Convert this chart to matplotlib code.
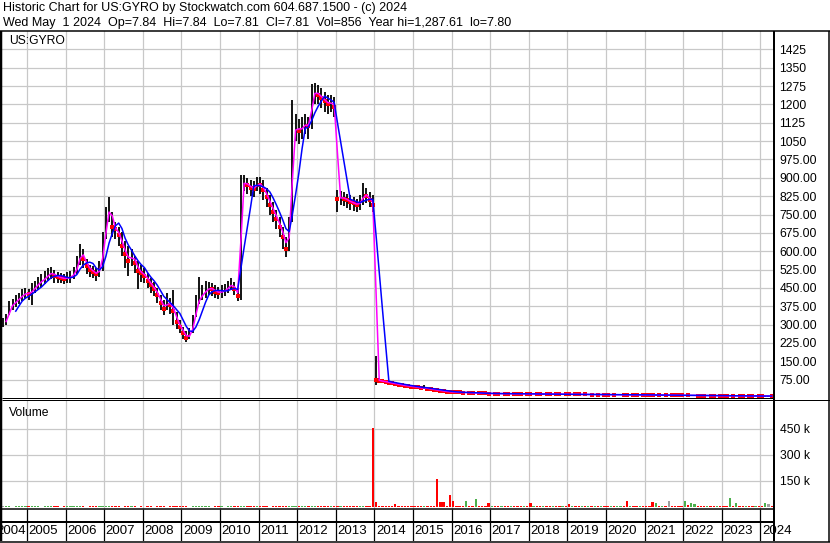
import matplotlib
matplotlib.use("Agg")
import matplotlib.pyplot as plt
from matplotlib.lines import Line2D
from matplotlib.ticker import FuncFormatter
import numpy as np
import pandas as pd

plt.rcParams['font.family'] = ['Liberation Sans', 'DejaVu Sans']

# ---------------- data (monthly, May 2004 .. Apr 2024) ----------------
start_year, start_month = 2004, 5

close = [
    305, 320, 370, 385, 395, 410, 420, 430,                                   # 2004 (May-Dec)
    425, 440, 455, 470, 480, 490, 505, 512, 500, 495, 490, 488,               # 2005
    490, 495, 510, 540, 600, 570, 540, 525, 515, 505, 530, 610,               # 2006
    730, 790, 700, 690, 665, 620, 590, 560, 585, 550, 520, 510,               # 2007
    500, 480, 460, 445, 420, 390, 365, 395, 380, 355, 310, 290,               # 2008
    265, 245, 260, 300, 380, 410, 425, 440, 450, 445, 435, 430,               # 2009
    435, 440, 455, 465, 445, 415, 875, 880, 870, 860, 855, 880,               # 2010
    870, 850, 820, 790, 760, 730, 700, 660, 610, 700, 1080, 1110,             # 2011
    1090, 1110, 1120, 1110, 1240, 1250, 1240, 1225, 1215, 1200, 1210, 1190,   # 2012
    815, 820, 815, 808, 800, 795, 790, 800, 835, 825, 810, 790,               # 2013
    75, 70, 68, 66, 63, 60, 58, 55, 53, 50, 49, 47,                           # 2014
    45, 43, 40, 42, 38, 36, 34, 32, 30, 28, 26, 25,                           # 2015
    24, 23, 22.5, 22, 23, 21.5, 20.5, 21, 19.5, 19, 18.5, 18.2,               # 2016
    18.5, 18, 17.8, 18.2, 17.6, 17.5, 17.8, 17.2, 17, 16.8, 17, 16.5,         # 2017
    16.2, 16.5, 16.1, 15.9, 16.2, 15.8, 15.6, 15.8, 15.4, 15.2, 15.4, 15.0,   # 2018
    14.8, 15.0, 14.8, 14.6, 14.8, 14.4, 14.5, 14.2, 14.3, 14.0, 14.1, 13.8,   # 2019
    13.6, 13.8, 13.2, 13.4, 13.6, 13.3, 13.0, 13.2, 13.0, 12.8, 13.0, 12.7,   # 2020
    12.5, 12.3, 11.8, 12.2, 11.8, 11.9, 11.6, 11.6, 11.2, 11.0, 10.8, 10.6,   # 2021
    10.8, 10.5, 10.7, 10.9, 10.2, 10.0, 9.8, 9.9, 9.6, 9.4, 9.5, 9.2,         # 2022
    9.0, 8.8, 9.1, 8.9, 9.0, 8.7, 8.5, 8.6, 8.3, 8.2, 8.3, 8.0,               # 2023
    7.9, 8.0, 8.0, 7.81,                                                      # 2024 (Jan-Apr)
]

high = [
    325, 345, 395, 405, 420, 430, 445, 450,
    445, 470, 480, 495, 505, 520, 530, 535, 525, 515, 510, 505,
    515, 520, 535, 580, 630, 610, 570, 545, 540, 530, 560, 680,
    780, 820, 760, 720, 700, 680, 640, 620, 610, 580, 560, 545,
    530, 510, 490, 475, 450, 420, 400, 430, 410, 440, 350, 320,
    290, 275, 285, 340, 420, 495, 460, 480, 475, 470, 460, 455,
    460, 465, 480, 490, 475, 450, 910, 910, 900, 890, 885, 905,
    905, 890, 860, 830, 800, 770, 740, 700, 660, 740, 1220, 1160,
    1140, 1150, 1160, 1150, 1285, 1288, 1280, 1265, 1250, 1240, 1240, 1230,
    850, 845, 840, 835, 830, 820, 815, 830, 880, 860, 840, 830,
    170, 80, 76, 73, 70, 67, 64, 62, 60, 57, 55, 53,
    50, 48, 47, 52, 45, 41, 39, 36, 34, 32, 30, 29,
    27, 26, 25, 24.5, 25, 24, 23, 23, 22, 21.5, 21, 20.5,
    20.5, 20, 20, 20.5, 19.8, 19.5, 20, 19.5, 19, 19, 19, 18.5,
    18.2, 18.5, 18.2, 18, 18.2, 17.8, 17.6, 17.8, 17.4, 17.2, 17.4, 17,
    16.8, 17, 16.8, 16.6, 16.8, 16.4, 16.5, 16.2, 16.3, 16, 16.1, 15.8,
    15.6, 15.8, 15.2, 15.4, 15.6, 15.3, 15, 15.2, 15, 14.8, 15, 14.7,
    14.5, 14.3, 13.8, 14.2, 13.8, 13.9, 13.6, 13.6, 13.2, 13, 12.8, 12.6,
    12.8, 12.5, 12.7, 12.9, 12.2, 12, 11.8, 11.9, 11.6, 11.4, 11.5, 11.2,
    11, 10.8, 11.1, 10.9, 11, 10.7, 10.5, 10.6, 10.3, 10.2, 10.3, 10,
    9.9, 10, 10, 9.6,
]

low = [
    290, 300, 340, 360, 370, 385, 395, 405,
    400, 380, 430, 440, 455, 465, 480, 485, 470, 470, 468, 465,
    470, 470, 485, 505, 545, 530, 505, 495, 490, 480, 495, 520,
    650, 720, 660, 650, 620, 580, 530, 500, 540, 510, 445, 475,
    470, 450, 430, 415, 390, 360, 340, 360, 345, 300, 280, 265,
    240, 230, 240, 265, 330, 385, 400, 410, 420, 415, 410, 405,
    410, 415, 430, 440, 420, 395, 400, 845, 835, 825, 820, 845,
    835, 810, 780, 750, 720, 690, 660, 610, 575, 600, 720, 1050,
    1040, 1060, 1080, 1060, 1100, 1200, 1200, 1185, 1170, 1160, 1170, 1150,
    760, 790, 785, 775, 770, 765, 760, 770, 790, 795, 780, 760,
    55, 62, 62, 60, 58, 55, 53, 50, 48, 46, 45, 43,
    41, 39, 36, 37, 34, 32, 30, 29, 27, 25, 23, 22,
    22, 21, 20.5, 20, 20.5, 19.5, 18.5, 19, 17.5, 17, 16.5, 16.2,
    16.5, 16, 15.8, 16.2, 15.6, 15.5, 15.8, 15.2, 15, 14.8, 15, 14.5,
    14.2, 14.5, 14.1, 13.9, 14.2, 13.8, 13.6, 13.8, 13.4, 13.2, 13.4, 13,
    12.8, 13, 12.8, 12.6, 12.8, 12.4, 12.5, 12.2, 12.3, 12, 12.1, 11.8,
    11.6, 11.8, 11.2, 11.4, 11.6, 11.3, 11, 11.2, 11, 10.8, 11, 10.7,
    10.5, 10.3, 9.8, 10.2, 9.8, 9.9, 9.6, 9.6, 9.2, 9, 8.8, 8.6,
    8.8, 8.5, 8.7, 8.9, 8.2, 8, 7.8, 7.9, 7.6, 7.4, 7.5, 7.2,
    7, 6.8, 7.1, 6.9, 7, 6.7, 6.5, 6.6, 6.3, 6.2, 6.3, 6,
    5.9, 6, 6, 7.8,
]

volume_k = [
    3, 4, 3, 2, 3, 4, 3, 3,
    3, 3, 4, 3, 2, 3, 3, 4, 3, 3, 2, 3,
    3, 3, 4, 6, 3, 3, 2, 3, 3, 3, 3, 4,
    4, 5, 3, 3, 3, 2, 3, 3, 3, 3, 2, 3,
    2, 3, 3, 2, 3, 3, 3, 2, 3, 4, 3, 3,
    3, 3, 2, 3, 3, 4, 3, 3, 3, 2, 3, 3,
    3, 2, 3, 3, 3, 3, 5, 7, 3, 3, 3, 3,
    3, 3, 3, 2, 3, 3, 3, 3, 4, 3, 4, 3,
    4, 3, 3, 3, 4, 8, 4, 3, 3, 3, 5, 4,
    3, 3, 3, 3, 3, 8, 3, 3, 4, 3, 4, 457,
    26, 6, 4, 4, 4, 5, 15, 4, 3, 3, 3, 3,
    3, 4, 3, 5, 4, 6, 5, 163, 26, 26, 4, 67,
    36, 8, 6, 5, 37, 6, 5, 45, 6, 5, 4, 22,
    4, 4, 3, 3, 5, 3, 3, 4, 4, 3, 4, 4,
    20, 6, 4, 3, 3, 4, 3, 4, 5, 3, 4, 4,
    18, 5, 3, 3, 4, 6, 3, 3, 4, 3, 3, 3,
    3, 4, 3, 3, 5, 4, 36, 3, 3, 4, 3, 4,
    5, 3, 28, 22, 4, 6, 5, 37, 6, 8, 5, 4,
    37, 10, 20, 15, 6, 8, 5, 4, 6, 4, 5, 4,
    4, 3, 51, 6, 22, 4, 5, 6, 4, 5, 4, 6,
    5, 25, 18, 6,
]

price_ticks = [75, 150, 225, 300, 375, 450, 525, 600, 675, 750, 825, 900, 975,
               1050, 1125, 1200, 1275, 1350, 1425]
volume_ticks_k = [150, 300, 450]
year_labels = list(range(2004, 2025))
symbol = "US:GYRO"
header_line1 = "Historic Chart for US:GYRO by Stockwatch.com 604.687.1500 - (c) 2024"
header_line2 = ("Wed May  1 2024  Op=7.84  Hi=7.84  Lo=7.81  Cl=7.81  Vol=856  "
                "Year hi=1,287.61  lo=7.80")

for name, arr in (("high", high), ("low", low), ("volume_k", volume_k)):
    if len(arr) != len(close):
        raise ValueError(f"{name} has {len(arr)} values, close has {len(close)}")

# ---------------- derived ----------------
close_a = np.array(close, float)
high_a = np.array(high, float)
low_a = np.array(low, float)
vol_a = np.array(volume_k, float)
n = len(close_a)
t = start_year + (start_month - 1 + np.arange(n) + 0.5) / 12.0
prev = np.r_[close_a[0], close_a[:-1]]
down = close_a < prev
up = close_a > prev
ma_fast = pd.Series(close_a).rolling(2).mean().to_numpy()
ma_slow = pd.Series(close_a).rolling(5).mean().to_numpy()

# ---------------- figure layout (pixel based) ----------------
W, H = 830, 543
fig = plt.figure(figsize=(W / 100, H / 100), dpi=100)
fig.patch.set_facecolor('white')


def rect(x0, y0, x1, y1):
    return [x0 / W, 1 - y1 / H, (x1 - x0) / W, (y1 - y0) / H]


def fline(x0, y0, x1, y1, lw=1.0):
    fig.add_artist(Line2D([x0 / W, x1 / W], [1 - y0 / H, 1 - y1 / H],
                          color='black', lw=lw * 0.72, transform=fig.transFigure,
                          solid_capstyle='butt'))


XL = (2004.352, 2024.352)
GRID = '#c8c8c8'
FS = 8.7
HFS = 9.0

ax = fig.add_axes(rect(2, 31, 774, 398))
axv = fig.add_axes(rect(2, 400, 774, 509))
axl = fig.add_axes(rect(2, 509, 774, 541))

# ---- price panel ----
ax.set_xlim(*XL)
ax.set_ylim(0, 1500)
ax.set_axisbelow(True)
ax.set_xticks(year_labels[1:])
ax.set_yticks(price_ticks)
ax.grid(True, color=GRID, lw=0.9)
ax.tick_params(axis='x', length=0, labelbottom=False)
ax.yaxis.tick_right()
ax.tick_params(axis='y', length=0, pad=4, labelsize=FS)
ax.yaxis.set_major_formatter(FuncFormatter(
    lambda v, p: f"{v:.0f}" if v >= 1000 else f"{v:.2f}"))
for s in ax.spines.values():
    s.set_visible(False)

ax.vlines(t, low_a, high_a, color='black', lw=1.3, zorder=2)
ax.plot(t[down], close_a[down], 's', color='#ff0000', ms=2.6, mew=0, zorder=3)
ax.plot(t, ma_fast, color='#ff00ff', lw=1.1, zorder=4)
ax.plot(t, ma_slow, color='#0000ff', lw=1.1, zorder=5)
fig.text(9 / W, 1 - 41 / H, symbol, fontsize=FS, ha='left', va='center')

# ---- volume panel ----
axv.set_xlim(*XL)
axv.set_ylim(-12, 617)
axv.set_axisbelow(True)
axv.set_xticks(year_labels[1:])
axv.set_yticks(volume_ticks_k)
axv.grid(True, color=GRID, lw=0.9)
axv.tick_params(axis='x', length=0, labelbottom=False)
axv.yaxis.tick_right()
axv.tick_params(axis='y', length=0, pad=4, labelsize=FS)
axv.yaxis.set_major_formatter(FuncFormatter(lambda v, p: f"{v:.0f} k"))
for s in axv.spines.values():
    s.set_visible(False)
vcolors = np.where(down, '#ff0000', np.where(up, '#4cb04c', '#a0a0a0'))
axv.bar(t, vol_a, width=0.06, color=vcolors, bottom=0, zorder=2)
fig.text(9 / W, 1 - 413 / H, "Volume", fontsize=FS, ha='left', va='center')

# ---- year label rows ----
axl.set_xlim(*XL)
axl.set_ylim(0, 32)
axl.axis('off')
axl.vlines(year_labels[1:], 0, 32, color='black', lw=0.9)
for yr in year_labels:
    if yr == year_labels[0]:
        axl.annotate(str(yr), (yr + 1, 10), xytext=(-1.0, 0), textcoords='offset pixels',
                     ha='right', va='center', fontsize=9.5, annotation_clip=False)
    else:
        axl.annotate(str(yr), (yr, 10), xytext=(1.5, 0), textcoords='offset pixels',
                     ha='left', va='center', fontsize=9.5, annotation_clip=False)

# ---- header ----
fig.text(3 / W, 1 - 8 / H, header_line1, fontsize=HFS, ha='left', va='center')
fig.text(3 / W, 1 - 23 / H, header_line2, fontsize=HFS, ha='left', va='center')

# ---- frame lines ----
fline(0, 31, 830, 31, 1.5)
fline(1.2, 31, 1.2, 541, 2.5)
fline(774, 31, 774, 541, 2)
fline(829, 31, 829, 542, 1.5)
fline(0, 541.5, 830, 541.5, 1.5)
fline(2, 397.5, 774, 397.5, 1)
fline(2, 400, 830, 400, 1)
fline(2, 509, 774, 509, 1.5)
fline(2, 522, 774, 522, 2)

fig.savefig("out.png", dpi=100, facecolor='white')
